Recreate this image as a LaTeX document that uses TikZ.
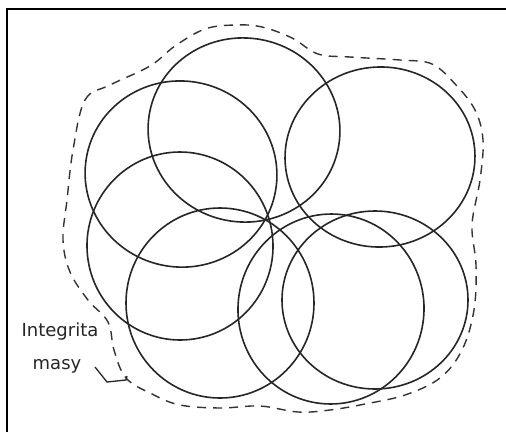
\documentclass[tikz,border=0pt]{standalone}
\usepackage{fontspec}
\newfontfamily\handfont{DejaVu Sans}
\usepackage{tikz}
\usetikzlibrary{calc}

\begin{document}
\begin{tikzpicture}[x=1pt,y=-1pt,
  ring/.style={draw=black!85,line width=1.6pt},
  hull/.style={draw=black!80,line width=1.4pt,dash pattern=on 9pt off 7pt},
  note/.style={font=\handfont\fontsize{18}{21}\selectfont,text=black!85,inner sep=0pt}]
  \useasboundingbox (0,0) rectangle (506,432);
  \fill[white] (0,0) rectangle (506,432);
  \draw[line width=2pt] (7,432) -- (7,9) -- (506,9);
  \coordinate (A) at (244,130);
  \coordinate (B) at (380,157);
  \coordinate (C) at (181,174);
  \coordinate (D) at (180,246);
  \coordinate (E) at (220,303);
  \coordinate (F) at (331,309);
  \coordinate (G) at (375,300);
  \draw[ring,rotate around={-8:(A)}] (A) ellipse [x radius=96pt,y radius=92pt];
  \draw[ring,rotate around={4:(B)}] (B) ellipse [x radius=95pt,y radius=90pt];
  \draw[ring,rotate around={-10:(C)}] (C) ellipse [x radius=96pt,y radius=93pt];
  \draw[ring,rotate around={6:(D)}] (D) ellipse [x radius=93pt,y radius=94pt];
  \draw[ring] (E) ellipse [x radius=94pt,y radius=95pt];
  \draw[ring,rotate around={-6:(F)}] (F) ellipse [x radius=93pt,y radius=95pt];
  \draw[ring] (G) ellipse [x radius=93pt,y radius=89pt];
  \draw[hull] plot[smooth cycle,tension=0.6] coordinates {
    (73,150) (85,100) (110,85) (150,66) (175,46) (205,29) (235,25) (262,27)
    (292,38) (318,54) (350,57) (400,60) (432,64) (456,85) (475,110)
    (483,140) (480,180) (472,225) (476,265) (474,310) (462,350) (440,378)
    (405,395) (365,404) (330,410) (298,412) (260,406) (220,408) (180,405)
    (152,394) (126,378) (114,350) (108,322) (88,300) (70,272) (63,240) (67,200)};
  \node[note] (lbl1) at (60,332) {Integrita};
  \node[note] (lbl2) at (57,366) {masy};
  \draw[black!85,line width=1.3pt] (95,367) -- (107,382) -- (126,380) -- (127,376);
\end{tikzpicture}
\end{document}
